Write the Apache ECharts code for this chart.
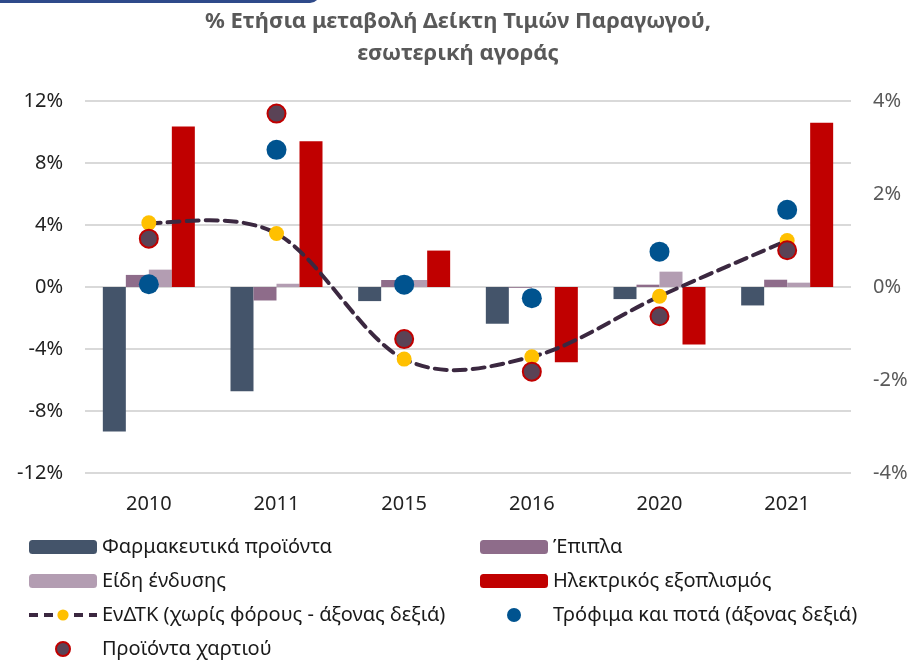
<!DOCTYPE html>
<html>
<head>
<meta charset="utf-8">
<script src="https://cdn.jsdelivr.net/npm/echarts@6/dist/echarts.min.js"></script>
<style>
  html, body { margin: 0; padding: 0; background: #fff; }
  #chart { width: 922px; height: 665px; }
</style>
</head>
<body>
<div id="chart"></div>
<script>
// categories (years)
const years = ['2010', '2011', '2015', '2016', '2020', '2021']
// left axis (bars), % y/y
const pharma = [-9.33, -6.72, -0.91, -2.37, -0.78, -1.19]
const furniture = [0.78, -0.87, 0.45, -0.05, 0.15, 0.47]
const clothing = [1.12, 0.21, 0.45, 0.02, 0.99, 0.28]
const electrical = [10.36, 9.41, 2.35, -4.85, -3.71, 10.6]
// right axis (points), % y/y
const ppiTotal = [1.38, 1.15, -1.55, -1.5, -0.2, 1.0]
const food = [0.06, 2.95, 0.05, -0.24, 0.76, 1.66]
const paper = [1.04, 3.73, -1.12, -1.82, -0.63, 0.79]

const FONT = 'Noto Sans'
const names = {
  pharma: 'Φαρμακευτικά προϊόντα',
  furniture: 'Έπιπλα',
  clothing: 'Είδη ένδυσης',
  electrical: 'Ηλεκτρικός εξοπλισμός',
  ppi: 'ΕνΔΤΚ (χωρίς φόρους - άξονας δεξιά)',
  food: 'Τρόφιμα και ποτά (άξονας δεξιά)',
  paper: 'Προϊόντα χαρτιού'
}
const LINE_COLOR = '#3B2840'

const pct = (v) => v + '%'

// excel-like smoothed line (catmull-rom through the points, like excel does)
const renderSmoothLine = (params, api) => {
  if (params.dataIndex !== 0) return null
  const pts = ppiTotal.map((v, i) => api.coord([i, v]))
  let d = 'M' + pts[0][0] + ' ' + pts[0][1]
  for (let i = 0; i < pts.length - 1; i++) {
    const p0 = pts[Math.max(i - 1, 0)]
    const p1 = pts[i]
    const p2 = pts[i + 1]
    const p3 = pts[Math.min(i + 2, pts.length - 1)]
    const c1 = [p1[0] + (p2[0] - p0[0]) / 6, p1[1] + (p2[1] - p0[1]) / 6]
    const c2 = [p2[0] - (p3[0] - p1[0]) / 6, p2[1] - (p3[1] - p1[1]) / 6]
    d += ' C' + c1[0] + ' ' + c1[1] + ' ' + c2[0] + ' ' + c2[1] + ' ' + p2[0] + ' ' + p2[1]
  }
  return {
    type: 'path',
    shape: { pathData: d },
    style: { fill: 'none', stroke: LINE_COLOR, lineWidth: 4, lineDash: [12, 7], lineCap: 'round' }
  }
}

const myChart = echarts.init(document.getElementById('chart'))
const option = {
  backgroundColor: '#fff',
  textStyle: { fontFamily: FONT },
  animation: false,
  title: {
    text: '% Ετήσια μεταβολή Δείκτη Τιμών Παραγωγού,\nεσωτερική αγοράς',
    left: 453,
    textAlign: 'center',
    top: 1,
    textStyle: { fontFamily: FONT, fontSize: 22, fontWeight: 'bold', color: '#595959', lineHeight: 32 }
  },
  graphic: [
    { type: 'rect', shape: { x: -20, y: -20, width: 340, height: 23, r: 10 }, style: { fill: '#2F4A8A' } }
  ],
  grid: { left: 85, right: 71, top: 101, bottom: 192 },
  legend: [
    {
      orient: 'vertical', left: 22, top: 532, itemWidth: 68, itemHeight: 14, itemGap: 14,
      textStyle: { fontFamily: FONT, fontSize: 20, color: '#1a1a1a' },
      data: [names.pharma, names.clothing,
        { name: names.ppi, lineStyle: { opacity: 1, color: LINE_COLOR, width: 4, type: [9, 6] } },
        names.paper]
    },
    {
      orient: 'vertical', left: 475, top: 532, itemWidth: 68, itemHeight: 14, itemGap: 14,
      textStyle: { fontFamily: FONT, fontSize: 20, color: '#1a1a1a' },
      data: [names.furniture, names.electrical, names.food]
    }
  ],
  xAxis: {
    type: 'category',
    data: years,
    axisLine: { show: false, onZero: false },
    axisTick: { show: false },
    axisLabel: { fontSize: 20, color: '#222', margin: 21 }
  },
  yAxis: [
    {
      type: 'value', min: -12, max: 12, interval: 4,
      axisLabel: { formatter: pct, fontSize: 20, color: '#222', margin: 22 },
      splitLine: { lineStyle: { color: '#D9D9D9', width: 2 } },
      axisLine: { show: false }, axisTick: { show: false }
    },
    {
      type: 'value', min: -4, max: 4, interval: 2,
      axisLabel: { formatter: pct, fontSize: 20, color: '#595959', margin: 22 },
      splitLine: { show: false },
      axisLine: { show: false }, axisTick: { show: false }
    }
  ],
  series: [
    { name: names.pharma, type: 'bar', data: pharma, barWidth: 23, barGap: '0%', itemStyle: { color: '#44546A' } },
    { name: names.furniture, type: 'bar', data: furniture, barWidth: 23, barGap: '0%', itemStyle: { color: '#8E6C8A' } },
    { name: names.clothing, type: 'bar', data: clothing, barWidth: 23, barGap: '0%', itemStyle: { color: '#B39DB2' } },
    { name: names.electrical, type: 'bar', data: electrical, barWidth: 23, barGap: '0%', itemStyle: { color: '#C00000' } },
    {
      type: 'custom', yAxisIndex: 1, data: ppiTotal,
      renderItem: renderSmoothLine, silent: true, z: 3
    },
    {
      name: names.ppi, type: 'line', yAxisIndex: 1, data: ppiTotal,
      symbol: 'circle', symbolSize: 15, showSymbol: true,
      lineStyle: { opacity: 0, color: LINE_COLOR, width: 4 },
      itemStyle: { color: '#FFC000', borderWidth: 0 },
      z: 4
    },
    {
      name: names.food, type: 'scatter', yAxisIndex: 1, data: food,
      symbol: 'circle', symbolSize: 20,
      itemStyle: { color: '#00538F', opacity: 1 },
      z: 5
    },
    {
      name: names.paper, type: 'scatter', yAxisIndex: 1, data: paper,
      symbol: 'circle', symbolSize: 18,
      itemStyle: { color: '#5A4356', borderColor: '#C00000', borderWidth: 2, opacity: 1 },
      z: 6
    }
  ]
}
myChart.setOption(option)
</script>
</body>
</html>
